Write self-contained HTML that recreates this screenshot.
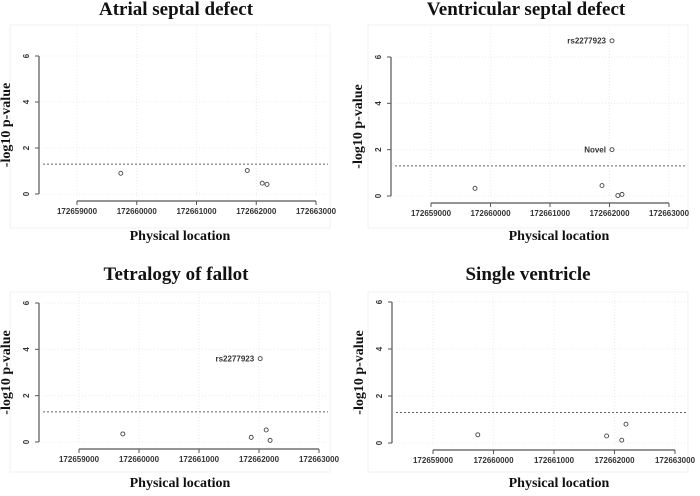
<!DOCTYPE html>
<html><head><meta charset="utf-8"><style>
body{margin:0;background:#fff;}
svg{display:block;font-family:"Liberation Sans",sans-serif;}
.t{font-family:"Liberation Serif",serif;font-weight:bold;}
</style></head><body>
<svg id="c" width="700" height="496" viewBox="0 0 700 496"></svg>
<script>
const xTicks=[172659000,172660000,172661000,172662000,172663000];
const yTicks=[0,2,4,6];
const threshold=1.3;
const titles=["Atrial septal defect","Ventricular septal defect","Tetralogy of fallot","Single ventricle"];
const asdPos=[172659733,172661850,172662100,172662180];
const asdVal=[0.9,1.02,0.47,0.42];
const vsdPos=[172659740,172661874,172662042,172662042,172662140,172662210];
const vsdVal=[0.33,0.45,6.7,2.0,0.02,0.07];
const vsdLab=["","","rs2277923","Novel","",""];
const tofPos=[172659730,172661870,172662020,172662120,172662185];
const tofVal=[0.35,0.2,3.6,0.52,0.07];
const tofLab=["","","rs2277923","",""];
const svPos=[172659740,172661870,172662120,172662190];
const svVal=[0.35,0.3,0.12,0.8];
const panelData=[[asdPos,asdVal,[]],[vsdPos,vsdVal,vsdLab],[tofPos,tofVal,tofLab],[svPos,svVal,[]]];
const L=[
 {ax:39,y0:194,y6:56,x0:77,x1:316,xa:201,ty:15,tx:176,lx:180,ly:240,bx:[10,25,320,203]},
 {ax:391,y0:196,y6:57,x0:431,x1:669,xa:203,ty:15,tx:526,lx:559,ly:240,bx:[368,25,320,203]},
 {ax:39,y0:442,y6:303,x0:79,x1:319,xa:449,ty:280,tx:176,lx:180,ly:487,bx:[10,292,320,180]},
 {ax:392,y0:443,y6:302,x0:433,x1:675,xa:450,ty:280,tx:528,lx:559,ly:487,bx:[368,292,320,180]}
];
const svg=document.getElementById('c');
const NS="http://www.w3.org/2000/svg";
function mk(tag,attrs,parent,txt){const e=document.createElementNS(NS,tag);for(const k in attrs)e.setAttribute(k,attrs[k]);if(txt!==undefined)e.textContent=txt;parent.appendChild(e);return e;}
L.forEach((p,i)=>{
 const g=mk('g',{},svg);
 
 
 const xs=v=>p.x0+(v-xTicks[0])/(xTicks[4]-xTicks[0])*(p.x1-p.x0);
 const ys=v=>p.y0+(v-yTicks[0])/(6-0)*(p.y6-p.y0);
 const b=mk('rect',{x:p.bx[0],y:p.bx[1],width:p.bx[2],height:p.bx[3],fill:'none',stroke:'#f0f0f0','stroke-width':1},g);
 
 
 const t=mk('text',{x:p.tx,y:p.ty,'text-anchor':'middle','font-size':19,class:'t',fill:'#111'},g,titles[i]);
 
 
 xTicks.forEach(v=>{const l=mk('line',{x1:xs(v),x2:xs(v),y1:p.bx[1]+2,y2:p.y0+2,stroke:'#ececec','stroke-dasharray':'1,2'},g);});
 yTicks.forEach(v=>{const l=mk('line',{x1:p.ax+4,x2:p.bx[0]+p.bx[2]-2,y1:ys(v),y2:ys(v),stroke:'#ececec','stroke-dasharray':'1,2'},g);});
 const ya=mk('line',{x1:p.ax,x2:p.ax,y1:ys(6),y2:ys(0),stroke:'#555','stroke-width':1.2},g);
 
 
 yTicks.forEach(v=>{
  mk('line',{x1:p.ax-4,x2:p.ax,y1:ys(v),y2:ys(v),stroke:'#555'},g);
  const tx=mk('text',{x:p.ax-13,y:ys(v),'font-size':8,fill:'#333','font-weight':'bold','text-anchor':'middle',transform:`rotate(-90 ${p.ax-13} ${ys(v)})`,dy:'0.35em'},g,String(v));
  
  
 });
 const yl=mk('text',{x:0,y:0,'font-size':14,class:'t',fill:'#111','text-anchor':'middle',transform:`translate(${p.ax-29},${(ys(0)+ys(6))/2}) rotate(-90)`},g,'-log10 p-value');
 
 
 const xa=mk('line',{x1:xs(xTicks[0]),x2:xs(xTicks[4]),y1:p.xa,y2:p.xa,stroke:'#555','stroke-width':1.2},g);
 
 
 xTicks.forEach(v=>{
  mk('line',{x1:xs(v),x2:xs(v),y1:p.xa,y2:p.xa+4,stroke:'#555'},g);
  const tx=mk('text',{x:xs(v),y:p.xa+13,'font-size':8,'font-weight':'bold',fill:'#333','text-anchor':'middle'},g,String(v));
  
  
 });
 const xl=mk('text',{x:p.lx,y:p.ly,'font-size':14,class:'t',fill:'#111','text-anchor':'middle'},g,'Physical location');
 
 
 const th=mk('line',{x1:p.ax+4,x2:p.bx[0]+p.bx[2]-2,y1:ys(threshold),y2:ys(threshold),stroke:'#666','stroke-dasharray':'2,2'},g);
 
 
 const [pos,val,lab]=panelData[i];
 pos.forEach((x,k)=>{
  const c=mk('circle',{cx:xs(x),cy:ys(val[k]),r:2,fill:'none',stroke:'#444','stroke-width':0.9},g);
  
  
  if(lab[k]){const tl=mk('text',{x:xs(x)-6,y:ys(val[k]),dy:'0.35em','font-size':8,'font-weight':'bold',fill:'#333','text-anchor':'end'},g,lab[k]);
   
   }
 });
});
</script>
</body></html>
